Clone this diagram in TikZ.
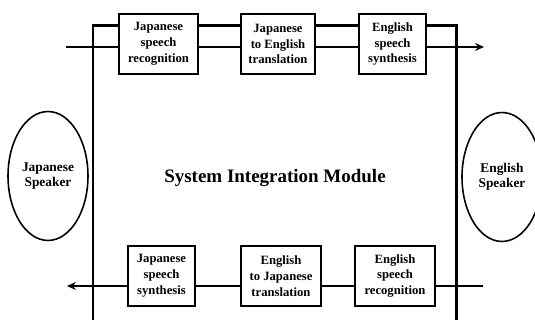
\documentclass[tikz,border=0pt]{standalone}
\usepackage{fontspec}
\setmainfont{Liberation Serif}
\usepackage{tikz}
\usetikzlibrary{positioning, arrows.meta, shapes.geometric}
\definecolor{sInk}{HTML}{000000}
\tikzset{
  procbox/.style={draw=sInk, line width=1.2pt, fill=white, minimum height=1.2cm,
    inner sep=1pt, align=center, font=\fontsize{7.2}{9}\selectfont\bfseries},
  speaker/.style={draw=sInk, ellipse, line width=0.9pt, minimum width=1.6cm, minimum height=2.58cm,
    inner sep=0pt, align=center, font=\fontsize{7.6}{8.5}\selectfont\bfseries},
  flow/.style={draw=sInk, line width=1.2pt},
}

\begin{document}
\begin{tikzpicture}[x=0.02cm, y=-0.02cm, >={Stealth[length=5pt, width=4.5pt]}]
  \useasboundingbox (0,0) rectangle (535,320);
  \clip (0,0) rectangle (535,320);
  \draw[flow] (93,330) -- (93,25.5) -- (456.5,25.5) -- (456.5,330);
  \node[font=\fontsize{10.8}{12}\selectfont\bfseries] (sim) at (275,178) {System Integration Module};
  \node[speaker] (js) at (48,176) {Japanese\\Speaker};
  \node[speaker] (es) at (502,177) {English\\Speaker};
  \node[procbox, minimum width=1.58cm] (jsr) at (158.5,44) {Japanese\\speech\\recognition};
  \node[procbox, minimum width=1.48cm] (jet) at (278,44) {Japanese\\to English\\translation};
  \node[procbox, minimum width=1.34cm] (ess) at (392.5,44) {English\\speech\\synthesis};
  \node[procbox, minimum width=1.34cm] (jss) at (161.5,276) {Japanese\\speech\\synthesis};
  \node[procbox, minimum width=1.6cm] (ejt) at (281,276) {English\\to Japanese\\translation};
  \node[procbox, minimum width=1.6cm] (esr) at (395,276) {English\\speech\\recognition};
  \coordinate (jin) at (66,47);
  \coordinate (jout) at (484,47);
  \coordinate (ein) at (483,286);
  \coordinate (eout) at (67,286);
  \draw[flow] (jin) -- (jsr.west |- jin);
  \draw[flow] (jsr.east |- jin) -- (jet.west |- jin);
  \draw[flow] (jet.east |- jin) -- (ess.west |- jin);
  \draw[flow, ->] (ess.east |- jin) -- (jout);
  \draw[flow] (ein) -- (esr.east |- ein);
  \draw[flow] (esr.west |- ein) -- (ejt.east |- ein);
  \draw[flow] (ejt.west |- ein) -- (jss.east |- ein);
  \draw[flow, ->] (jss.west |- ein) -- (eout);
\end{tikzpicture}
\end{document}
